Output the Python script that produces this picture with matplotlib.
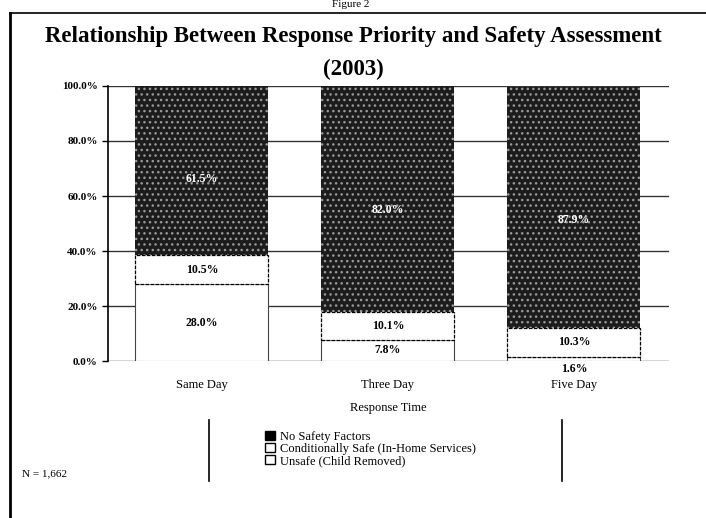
import numpy as np
import matplotlib.pyplot as plt
from matplotlib.lines import Line2D
from matplotlib.patches import Patch

plt.rcParams['font.family'] = ['Liberation Serif', 'DejaVu Serif']

categories = ["Same Day", "Three Day", "Five Day"]
unsafe = [28.0, 7.8, 1.6]
cond_safe = [10.5, 10.1, 10.3]
no_safety = [61.5, 82.0, 87.9]
series_names = ["No Safety Factors", "Conditionally Safe (In-Home Services)",
                "Unsafe (Child Removed)"]

fig = plt.figure(figsize=(7.06, 5.18), dpi=100)
ax = fig.add_axes([0.153, 0.303, 0.7946, 0.531])

x = np.arange(len(categories))
w = 0.715
bottom2 = np.array(unsafe) + np.array(cond_safe)

ax.bar(x, unsafe, w, color="white", edgecolor="#444444", linewidth=0.8, zorder=3)
ax.bar(x, cond_safe, w, bottom=unsafe, color="white", edgecolor="black",
       linewidth=0.9, linestyle=(0, (3, 1)), zorder=3)
ax.bar(x, no_safety, w, bottom=bottom2, color="#1c1c1c", edgecolor="#9a9a9a",
       hatch="...", linewidth=0, zorder=3)

# value labels
for i in range(len(categories)):
    ax.text(x[i], bottom2[i] + no_safety[i] * 0.45, f"{no_safety[i]:.1f}%",
            ha="center", va="center", color="white", fontsize=8.5,
            fontweight="bold", zorder=4)
    ax.text(x[i], unsafe[i] + cond_safe[i] / 2, f"{cond_safe[i]:.1f}%",
            ha="center", va="center", color="black", fontsize=8.5,
            fontweight="bold", zorder=4)
    if unsafe[i] > 5:
        ax.text(x[i], unsafe[i] / 2, f"{unsafe[i]:.1f}%", ha="center",
                va="center", fontsize=8.5, fontweight="bold", zorder=4)
    else:
        ax.text(x[i], -2.8, f"{unsafe[i]:.1f}%", ha="center", va="center",
                fontsize=8.5, fontweight="bold", zorder=4)

ax.set_xlim(-0.505, 2.511)
ax.set_ylim(0, 100)
ax.set_yticks(np.arange(0, 101, 20))
ax.set_yticklabels([f"{v:.1f}%" for v in np.arange(0, 101, 20)], fontsize=8,
                   fontweight="bold")
ax.set_xticks(x)
ax.set_xticklabels(categories, fontsize=9)
ax.tick_params(axis="x", length=0, pad=13)
ax.tick_params(axis="y", length=4, width=1)
ax.grid(axis="y", color="#333333", linewidth=1.0, zorder=0)
ax.set_xlabel("Response Time", fontsize=9, labelpad=8)
for s in ["top", "right", "bottom"]:
    ax.spines[s].set_visible(False)
ax.spines["left"].set_linewidth(1.2)
ax.spines["left"].set_linestyle((0, (4, 1)))

fig.text(0.5, 0.930, "Relationship Between Response Priority and Safety Assessment",
         ha="center", va="center", fontsize=16.5, fontweight="bold")
fig.text(0.5, 0.865, "(2003)", ha="center", va="center", fontsize=16.5,
         fontweight="bold")
fig.text(0.497, 1.0, "Figure 2", ha="center", va="top", fontsize=8)

handles = [Patch(facecolor="black", edgecolor="black"),
           Patch(facecolor="white", edgecolor="black"),
           Patch(facecolor="white", edgecolor="black")]
fig.legend(handles, series_names, loc="center left",
           bbox_to_anchor=(0.376, 0.133), frameon=False, fontsize=9,
           handlelength=0.75, handleheight=0.75, handletextpad=0.4,
           labelspacing=0.0, borderpad=0, borderaxespad=0)

# frame lines
fig.add_artist(Line2D([0.014, 0.014], [0.0, 0.975], color="black", lw=2))
fig.add_artist(Line2D([0.014, 1.0], [0.975, 0.975], color="black", lw=1.2))
fig.add_artist(Line2D([0.296, 0.296], [0.071, 0.189], color="black", lw=1.2))
fig.add_artist(Line2D([0.796, 0.796], [0.071, 0.189], color="black", lw=1.2))

fig.text(0.031, 0.085, "N = 1,662", fontsize=8, va="center")

plt.savefig("out.png", dpi=100)
